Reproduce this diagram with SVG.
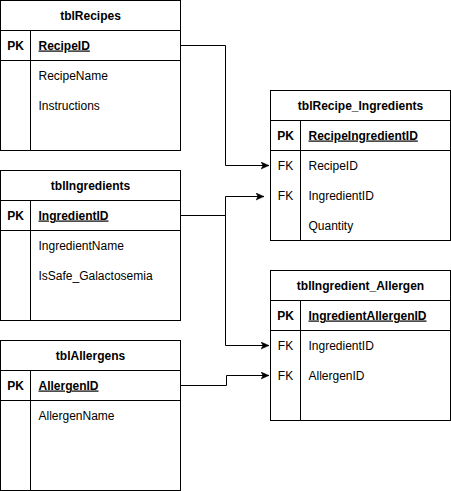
<svg xmlns="http://www.w3.org/2000/svg" width="451" height="491" viewBox="0 0 451 491">
<style>
.box{fill:#fff;stroke:#000;stroke-width:1}
.ln{fill:none;stroke:#000;stroke-width:1}
text{font-family:"Liberation Sans",Arial,sans-serif;font-size:12px;fill:#000}
.t{font-weight:bold;text-anchor:middle}
.k{font-weight:bold;text-anchor:middle}
.f{text-anchor:middle}
.pk{font-weight:bold;text-decoration:underline}
</style>
<defs>
<marker id="arr" markerUnits="userSpaceOnUse" markerWidth="10" markerHeight="10" refX="8" refY="4" orient="auto">
<path d="M0,0.5 L8,4 L0,7.5 L2,4 Z" fill="#000" stroke="#000" stroke-width="0.5"/>
</marker>
</defs>
<rect width="451" height="491" fill="#fff"/>
<g id="connectors">
<path class="ln" d="M180.5,45.5 H225.5 V165.5 H269" marker-end="url(#arr)"/>
<path class="ln" d="M180.5,215.5 H225.5 V196.5 H264" marker-end="url(#arr)"/>
<path class="ln" d="M180.5,215.5 H225.5 V345.5 H269" marker-end="url(#arr)"/>
<path class="ln" d="M180.5,385.5 H226.5 V375.5 H269" marker-end="url(#arr)"/>
</g>
<g id="tblRecipes">
<rect class="box" x="0.5" y="0.5" width="180" height="150"/>
<path class="ln" d="M0.5,30.5 H180.5 M0.5,60.5 H180.5 M30.5,30.5 V150.5"/>
<text class="t" x="90.5" y="19.5">tblRecipes</text>
<text class="k" x="15.5" y="49.5">PK</text>
<text class="pk" x="38.5" y="49.5">RecipeID</text>
<text x="38.5" y="79.5">RecipeName</text>
<text x="38.5" y="109.5">Instructions</text>
</g>
<g id="tblIngredients">
<rect class="box" x="0.5" y="170.5" width="180" height="150"/>
<path class="ln" d="M0.5,200.5 H180.5 M0.5,230.5 H180.5 M30.5,200.5 V320.5"/>
<text class="t" x="90.5" y="189.5">tblIngredients</text>
<text class="k" x="15.5" y="219.5">PK</text>
<text class="pk" x="38.5" y="219.5">IngredientID</text>
<text x="38.5" y="249.5">IngredientName</text>
<text x="38.5" y="279.5">IsSafe_Galactosemia</text>
</g>
<g id="tblAllergens">
<rect class="box" x="0.5" y="340.5" width="180" height="150"/>
<path class="ln" d="M0.5,370.5 H180.5 M0.5,400.5 H180.5 M30.5,370.5 V490.5"/>
<text class="t" x="90.5" y="359.5">tblAllergens</text>
<text class="k" x="15.5" y="389.5">PK</text>
<text class="pk" x="38.5" y="389.5">AllergenID</text>
<text x="38.5" y="419.5">AllergenName</text>
</g>
<g id="tblRecipe_Ingredients">
<rect class="box" x="270.5" y="90.5" width="180" height="150"/>
<path class="ln" d="M270.5,120.5 H450.5 M270.5,150.5 H450.5 M300.5,120.5 V240.5"/>
<text class="t" x="360.5" y="109.5">tblRecipe_Ingredients</text>
<text class="k" x="285.5" y="139.5">PK</text>
<text class="pk" x="308.5" y="139.5">RecipeIngredientID</text>
<text class="f" x="285.5" y="169.5">FK</text>
<text x="308.5" y="169.5">RecipeID</text>
<text class="f" x="285.5" y="199.5">FK</text>
<text x="308.5" y="199.5">IngredientID</text>
<text x="308.5" y="229.5">Quantity</text>
</g>
<g id="tblIngredient_Allergen">
<rect class="box" x="270.5" y="270.5" width="180" height="150"/>
<path class="ln" d="M270.5,300.5 H450.5 M270.5,330.5 H450.5 M300.5,300.5 V420.5"/>
<text class="t" x="360.5" y="289.5">tblIngredient_Allergen</text>
<text class="k" x="285.5" y="319.5">PK</text>
<text class="pk" x="308.5" y="319.5">IngredientAllergenID</text>
<text class="f" x="285.5" y="349.5">FK</text>
<text x="308.5" y="349.5">IngredientID</text>
<text class="f" x="285.5" y="379.5">FK</text>
<text x="308.5" y="379.5">AllergenID</text>
</g>
</svg>
